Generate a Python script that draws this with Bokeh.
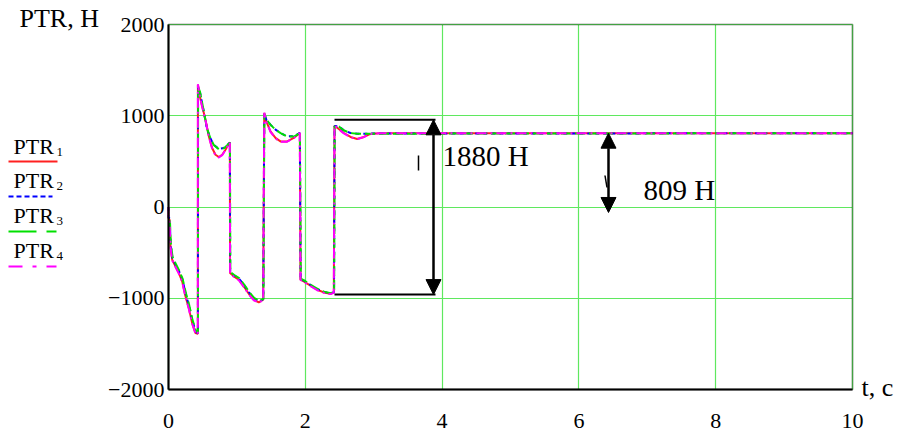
from bokeh.plotting import figure
from bokeh.models import FixedTicker, Label, Arrow, NormalHead, BoxAnnotation, Range1d
from bokeh.embed import file_html
from bokeh.resources import INLINE

# ---------------- data ----------------
x_ticks = [0, 2, 4, 6, 8, 10]
y_ticks = [-2000, -1000, 0, 1000, 2000]
y_tick_labels = {-2000: "\u22122000", -1000: "\u22121000", 0: "0", 1000: "1000", 2000: "2000"}

# PTR1 (red, solid) - lower curve
t1 = [0.0, 0.0, 0.015, 0.029, 0.054, 0.102, 0.151, 0.2, 0.249, 0.297, 0.346, 0.395, 0.429,
      0.43, 0.458, 0.492, 0.541, 0.59, 0.638, 0.687, 0.736, 0.785, 0.833, 0.882, 0.897,
      0.9, 0.955, 1.028, 1.101, 1.174, 1.247, 1.32, 1.384,
      1.40, 1.43, 1.491, 1.564, 1.637, 1.735, 1.832, 1.92,
      1.93, 1.978, 2.076, 2.174, 2.271, 2.368, 2.417,
      2.427, 2.49, 2.564, 2.661, 2.759, 2.856, 2.929, 2.978, 3.1, 10.0]
v1 = [0, -121, -139, -432, -578, -651, -724, -815, -980, -1108, -1272, -1382, -1390,
      1341, 1213, 1103, 957, 774, 647, 573, 548, 573, 628, 694, 708,
      -724, -760, -797, -870, -951, -1016, -1046, -1016,
      1031, 939, 829, 757, 719, 719, 757, 811,
      -797, -815, -863, -907, -936, -951, -936,
      891, 855, 811, 768, 746, 768, 793, 804, 809, 809]

# PTR2 (blue, dashed) - upper curve
t2 = [0.0, 0.0, 0.018, 0.032, 0.058, 0.106, 0.155, 0.204, 0.253, 0.301, 0.35, 0.399, 0.43,
      0.432, 0.458, 0.51, 0.56, 0.61, 0.66, 0.736, 0.81, 0.88, 0.897,
      0.902, 0.958, 1.031, 1.104, 1.177, 1.25, 1.323, 1.386,
      1.40, 1.43, 1.491, 1.564, 1.637, 1.735, 1.832, 1.92,
      1.932, 1.98, 2.078, 2.176, 2.273, 2.37, 2.42,
      2.428, 2.49, 2.564, 2.661, 2.759, 10.0]
v2 = [0, -110, -130, -415, -560, -635, -705, -795, -955, -1085, -1250, -1365, -1385,
      1320, 1268, 1067, 866, 757, 683, 636, 647, 694, 705,
      -715, -748, -785, -855, -935, -1000, -1035, -1010,
      1025, 957, 902, 848, 811, 774, 774, 811,
      -790, -808, -855, -900, -930, -947, -934,
      888, 884, 840, 811, 804, 809]

# PTR3 (green, dashed) - upper curve
t3 = [0.0, 0.0, 0.02, 0.034, 0.06, 0.108, 0.157, 0.206, 0.255, 0.303, 0.352, 0.401, 0.431,
      0.433, 0.46, 0.512, 0.562, 0.612, 0.662, 0.738, 0.812, 0.882, 0.899,
      0.904, 0.96, 1.033, 1.106, 1.179, 1.252, 1.325, 1.388,
      1.402, 1.432, 1.493, 1.566, 1.639, 1.737, 1.834, 1.922,
      1.934, 1.982, 2.08, 2.178, 2.275, 2.372, 2.422,
      2.43, 2.492, 2.566, 2.663, 2.761, 10.0]
v3 = [0, -105, -125, -405, -550, -625, -698, -785, -945, -1075, -1240, -1355, -1380,
      1315, 1265, 1065, 862, 755, 680, 632, 645, 692, 704,
      -712, -745, -780, -850, -930, -996, -1030, -1006,
      1022, 955, 900, 846, 810, 772, 772, 810,
      -786, -805, -852, -897, -928, -945, -932,
      885, 882, 838, 810, 803, 809]

# PTR4 (magenta, dash-dot) - lower curve
t4 = [0.0, 0.0, 0.015, 0.029, 0.054, 0.102, 0.151, 0.2, 0.249, 0.297, 0.346, 0.395, 0.429,
      0.43, 0.458, 0.492, 0.541, 0.59, 0.638, 0.687, 0.736, 0.785, 0.833, 0.882, 0.897,
      0.9, 0.955, 1.028, 1.101, 1.174, 1.247, 1.32, 1.384,
      1.40, 1.43, 1.491, 1.564, 1.637, 1.735, 1.832, 1.92,
      1.93, 1.978, 2.076, 2.174, 2.271, 2.368, 2.417,
      2.427, 2.49, 2.564, 2.661, 2.759, 2.856, 2.929, 2.978, 3.1, 10.0]
v4 = [0, -125, -142, -438, -585, -658, -730, -822, -988, -1115, -1280, -1388, -1395,
      1345, 1210, 1098, 950, 768, 640, 566, 542, 568, 624, 690, 706,
      -728, -765, -803, -876, -957, -1022, -1050, -1020,
      1034, 935, 824, 752, 714, 716, 755, 810,
      -800, -820, -868, -912, -940, -955, -940,
      893, 852, 806, 764, 744, 766, 792, 804, 809, 809]

series_names = ["PTR", "PTR", "PTR", "PTR"]
series_subs = ["1", "2", "3", "4"]

# annotation values
swing_top, swing_bottom, swing_text = 955, -960, "1880 H"
steady_top, steady_bottom, steady_text = 809, -60, "809 H"

# ---------------- layout helpers (pixel -> data) ----------------
W, H = 898, 432
L, R, T, B = 168, 852, 24, 389
X0, X1 = x_ticks[0], x_ticks[-1]
Y0, Y1 = y_ticks[0], y_ticks[-1]
def dx(px):
    return X0 + (px - L) / (R - L) * (X1 - X0)
def dy(py):
    return Y1 - (py - T) / (B - T) * (Y1 - Y0)

FONT = "Liberation Serif"
GRID = "#5FE85F"
BASE_SHIFT = 0.38  # empirical correction of the rendered alphabetic baseline

p = figure(width=W, height=H, min_border=0,
           x_range=Range1d(dx(0), dx(W)), y_range=Range1d(dy(H), dy(0)),
           output_backend="svg", toolbar_location=None, tools="")
p.background_fill_color = "white"
p.border_fill_color = "white"
p.outline_line_color = None

def text_at(px, py_base, txt, fs):
    p.add_layout(Label(x=dx(px), y=dy(py_base - BASE_SHIFT * fs), text=txt, text_font=FONT,
                       text_font_size=f"{fs}px", text_baseline="alphabetic", text_color="black"))

p.xaxis.ticker = FixedTicker(ticks=x_ticks)
p.yaxis.ticker = FixedTicker(ticks=y_ticks)
p.xaxis.fixed_location = Y0
p.yaxis.fixed_location = X0
p.xaxis.bounds = (X0, X1)
p.yaxis.bounds = (Y0, Y1)
p.yaxis.major_label_overrides = y_tick_labels
for ax in (p.xaxis, p.yaxis):
    ax.axis_line_color = "black"
    ax.axis_line_width = 2
    ax.major_tick_line_color = None
    ax.minor_tick_line_color = None
    ax.major_tick_out = 0
    ax.major_tick_in = 0
    ax.minor_tick_out = 0
    ax.minor_tick_in = 0
    ax.major_label_text_font = FONT
    ax.major_label_text_font_size = "22px"
    ax.major_label_text_color = "black"
p.yaxis.major_label_standoff = 4
p.xaxis.major_label_standoff = 24

p.xgrid.grid_line_color = GRID
p.ygrid.grid_line_color = GRID
p.xgrid.grid_line_width = 1.2
p.ygrid.grid_line_width = 1.2
p.xgrid.bounds = (X0, X1)
p.ygrid.bounds = (Y0, Y1)
p.xgrid.cross_bounds = (Y0, Y1)
p.ygrid.cross_bounds = (X0, X1)

# plot box
p.add_layout(BoxAnnotation(left=X0, right=X1, bottom=Y0, top=Y1, fill_alpha=0,
                           line_color="black", line_width=2, level="overlay"))

# curves
p.line(t1, v1, line_color="#FF2020", line_width=2)
p.line(t2, v2, line_color="#0000FF", line_width=2, line_dash="4 4")
p.line(t3, v3, line_color="#00E000", line_width=2, line_dash="10 4")
p.line(t4, v4, line_color="#FF00FF", line_width=2, line_dash="10 4 2 4")

# swing annotation box + arrow
x_box0, x_box1 = t1[48], dx(435)
for yy in (swing_top, swing_bottom):
    p.add_layout(Arrow(end=None, start=None, x_start=x_box0, y_start=yy, x_end=x_box1, y_end=yy,
                       line_color="black", line_width=2))
xa = dx(433)
p.add_layout(Arrow(start=NormalHead(size=15, fill_color="black", line_color="black"),
                   end=NormalHead(size=15, fill_color="black", line_color="black"),
                   x_start=xa, y_start=swing_top, x_end=xa, y_end=swing_bottom,
                   line_color="black", line_width=2.5))
p.add_layout(Arrow(end=None, start=None, x_start=dx(418), y_start=dy(155), x_end=dx(418), y_end=dy(170),
                   line_color="black", line_width=1.5))
text_at(442, 167, swing_text, 29)

# steady annotation arrow
xb = dx(608)
p.add_layout(Arrow(start=NormalHead(size=15, fill_color="black", line_color="black"),
                   end=NormalHead(size=15, fill_color="black", line_color="black"),
                   x_start=xb, y_start=steady_top, x_end=xb, y_end=steady_bottom,
                   line_color="black", line_width=2.5))
p.add_layout(Arrow(end=None, start=None, x_start=dx(604.5), y_start=dy(175), x_end=dx(606.5), y_end=dy(187),
                   line_color="black", line_width=1.5))
text_at(643, 201, steady_text, 29)

# axis titles
text_at(19, 28, "PTR, H", 26)
text_at(861, 397, "t, c", 26)

# legend (text above a line sample)
leg_text_base = [154, 188, 223, 258]
leg_line_y = [161, 196, 231, 266]
leg_colors = ["#FF2020", "#0000FF", "#00E000", "#FF00FF"]
leg_dash = ["solid", "5 3", "28 10", "14 10 4 10"]
leg_end = [57, 52, 56, 56]
for i in range(4):
    text_at(13, leg_text_base[i], series_names[i], 22)
    text_at(56, leg_text_base[i] + 2, series_subs[i], 13)
    p.add_layout(Arrow(end=None, start=None, x_start=dx(8), y_start=dy(leg_line_y[i]),
                       x_end=dx(leg_end[i]), y_end=dy(leg_line_y[i]),
                       line_color=leg_colors[i], line_width=2, line_dash=leg_dash[i]))

open("out.html", "w").write(file_html(p, INLINE))
